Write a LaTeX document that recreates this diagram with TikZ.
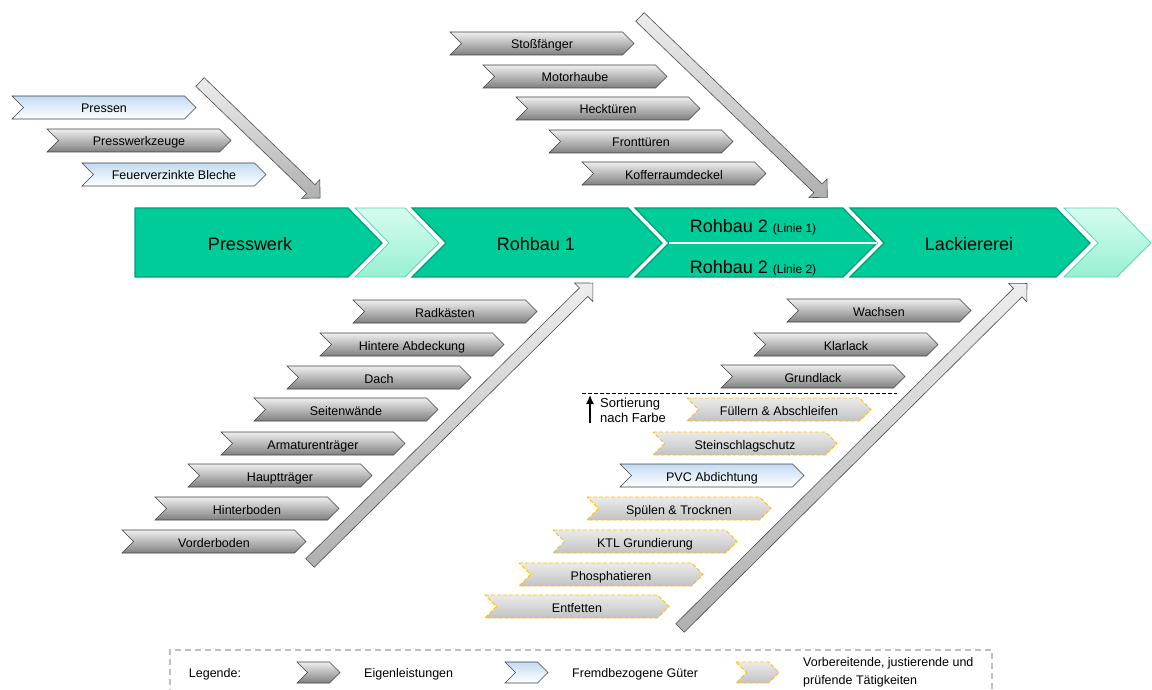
\documentclass[tikz,border=0pt]{standalone}
\usepackage{fontspec}
\setmainfont{Liberation Sans}
\usetikzlibrary{arrows.meta}

\definecolor{bandgreen}{HTML}{00CC99}
\definecolor{banddark}{HTML}{009E78}
\definecolor{mintlight}{HTML}{D6FCEF}
\definecolor{mintdark}{HTML}{97F0D3}
\definecolor{mintline}{HTML}{5CD6B3}
\definecolor{greytop}{HTML}{EFEFEF}
\definecolor{greybot}{HTML}{808080}
\definecolor{bluetop}{HTML}{C4DBF2}
\definecolor{preptop}{HTML}{EBEBEB}
\definecolor{prepbot}{HTML}{C2C2C2}
\definecolor{prepline}{HTML}{FFC000}
\definecolor{arrowtop}{HTML}{EDEDED}
\definecolor{arrowbot}{HTML}{B0B0B0}
\definecolor{legline}{HTML}{BFBFBF}

\tikzset{
  own/.style={draw=black!75,line width=0.6pt,top color=greytop,bottom color=greybot},
  bought/.style={draw=black!75,line width=0.6pt,top color=bluetop,bottom color=white},
  prep/.style={draw=prepline,line width=0.8pt,dash pattern=on 4pt off 2pt,top color=preptop,bottom color=prepbot},
  band/.style={draw=banddark,line width=1.2pt,fill=bandgreen},
  mint/.style={draw=mintline,line width=0.8pt,top color=mintlight,bottom color=mintdark},
  bigarrow/.style={draw=black!70,line width=0.6pt,top color=arrowtop,bottom color=arrowbot},
  lbl/.style={anchor=base,inner sep=0pt,font=\fontsize{12.5}{15}\selectfont},
  stage/.style={anchor=base,inner sep=0pt,font=\fontsize{18}{21}\selectfont},
}

\newcommand{\chevpath}[5]{%
  \draw[#1] (#2,#3) -- ++({#4-#5/2},0) -- ++({#5/2},{#5/2}) -- ++({-#5/2},{#5/2}) -- ++({-#4+#5/2},0) -- ++({#5/2},{-#5/2}) -- cycle;}
\newcommand{\chevbox}[6]{%
  \chevpath{#1}{#3}{#4}{#5}{23}
  \node[lbl] (#2) at ({#3+#5/2},{#4+17}) {#6};}
\newcommand{\blockarrow}[4]{%
  \draw[bigarrow,shift={(#1,#2)},rotate=#3] (0,-6) -- ({#4-13},-6) -- ({#4-13},-13) -- (#4,0) -- ({#4-13},13) -- ({#4-13},6) -- (0,6) -- cycle;}

\begin{document}
\begin{tikzpicture}[x=1pt,y=-1pt]
\useasboundingbox (0,0) rectangle (1152,690);

\draw[band] (135,208) -- (348,208) -- (382,243) -- (348,277) -- (135,277) -- cycle;
\draw[mint] (355,208) -- (405,208) -- (439,243) -- (405,277) -- (355,277) -- (389,243) -- cycle;
\draw[band] (412,208) -- (628,208) -- (662,243) -- (628,277) -- (412,277) -- (446,243) -- cycle;
\draw[band] (635,208) -- (843,208) -- (877,243) -- (843,277) -- (635,277) -- (669,243) -- cycle;
\draw[white,line width=1.5pt] (669,243) -- (877,243);
\draw[band] (850,208) -- (1056,208) -- (1090,243) -- (1056,277) -- (850,277) -- (884,243) -- cycle;
\draw[mint] (1064,208) -- (1117,208) -- (1151,243) -- (1117,277) -- (1064,277) -- (1098,243) -- cycle;
\node[stage] (presswerk) at (250,251) {Presswerk};
\node[stage] (rohbau) at (536,251) {Rohbau 1};
\node[stage] (linieeins) at (753,233) {Rohbau 2 {\fontsize{12}{14}\selectfont (Linie 1)}};
\node[stage] (liniezwei) at (753,273) {Rohbau 2 {\fontsize{12}{14}\selectfont (Linie 2)}};
\node[stage] (lackiererei) at (969,251) {Lackiererei};

\blockarrow{200}{82}{-44}{167}
\blockarrow{640}{17}{-43.9}{260}
\blockarrow{310}{563}{44.7}{398}
\blockarrow{680}{628}{44.8}{489}

\chevbox{bought}{pressen}{12}{96}{184}{Pressen}
\chevbox{own}{presswerkzeuge}{47}{129}{184}{Presswerkzeuge}
\chevbox{bought}{bleche}{82}{163}{184}{Feuerverzinkte Bleche}

\chevbox{own}{stossfaenger}{450}{32}{184}{Stoßfänger}
\chevbox{own}{motorhaube}{483}{65}{184}{Motorhaube}
\chevbox{own}{hecktueren}{516}{97}{184}{Hecktüren}
\chevbox{own}{fronttueren}{549}{130}{184}{Fronttüren}
\chevbox{own}{kofferraum}{582}{162}{184}{Kofferraumdeckel}

\chevbox{own}{radkaesten}{353}{300}{184}{Radkästen}
\chevbox{own}{abdeckung}{320}{333}{184}{Hintere Abdeckung}
\chevbox{own}{dach}{287}{366}{184}{Dach}
\chevbox{own}{seitenwaende}{254}{398}{184}{Seitenwände}
\chevbox{own}{armatur}{221}{432}{184}{Armaturenträger}
\chevbox{own}{haupttraeger}{188}{464}{184}{Hauptträger}
\chevbox{own}{hinterboden}{155}{497}{184}{Hinterboden}
\chevbox{own}{vorderboden}{122}{530}{184}{Vorderboden}

\chevbox{own}{wachsen}{787}{299}{184}{Wachsen}
\chevbox{own}{klarlack}{754}{333}{184}{Klarlack}
\chevbox{own}{grundlack}{721}{365}{184}{Grundlack}
\chevbox{prep}{fuellern}{687}{398}{184}{Füllern \& Abschleifen}
\chevbox{prep}{steinschlag}{653}{432}{184}{Steinschlagschutz}
\chevbox{bought}{pvc}{620}{464}{184}{PVC Abdichtung}
\chevbox{prep}{spuelen}{587}{497}{184}{Spülen \& Trocknen}
\chevbox{prep}{ktl}{553}{530}{184}{KTL Grundierung}
\chevbox{prep}{phosphat}{519}{563}{184}{Phosphatieren}
\chevbox{prep}{entfetten}{485}{595}{184}{Entfetten}

\coordinate (trennlinks) at (582,393);
\coordinate (trennrechts) at (897,393);
\draw[black,line width=0.9pt,dash pattern=on 4pt off 2pt] (trennlinks) -- (trennrechts);
\coordinate (sortfuss) at (590,423);
\coordinate (sortspitze) at (590,395);
\draw[line width=1.3pt,-{Latex[length=9pt,width=8pt]}] (sortfuss) -- (sortspitze);
\node[anchor=west,align=left,inner sep=0pt,font=\fontsize{13}{15}\selectfont] (sortierung) at (600,410) {Sortierung\\nach Farbe};

\draw[legline,line width=1.2pt,dash pattern=on 6pt off 4pt] (170,695) -- (170,650) -- (992,650) -- (992,695);
\node[lbl] (legende) at (215,677) {Legende:};
\chevpath{own}{297}{662}{43}{21}
\node[lbl,anchor=base west] (eigen) at (364,677) {Eigenleistungen};
\chevpath{bought}{505}{662}{43}{21}
\node[lbl,anchor=base west] (fremd) at (572,677) {Fremdbezogene Güter};
\chevpath{prep}{736}{662}{43}{21}
\node[anchor=west,align=left,inner sep=0pt,font=\fontsize{12.5}{18}\selectfont] (vorbereitend) at (803,672) {Vorbereitende, justierende und\\prüfende Tätigkeiten};
\end{tikzpicture}
\end{document}
